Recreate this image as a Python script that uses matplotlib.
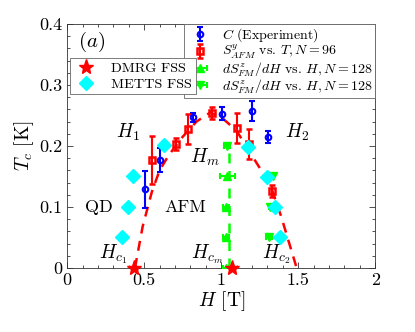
import numpy as np
import matplotlib
matplotlib.use("Agg")
import matplotlib.pyplot as plt

plt.rcParams['font.family'] = 'serif'
plt.rcParams['font.serif'] = ['cmr10']
plt.rcParams['mathtext.fontset'] = 'cm'
plt.rcParams['axes.formatter.use_mathtext'] = True

# C (Experiment)
H_exp = [0.505, 0.602, 0.814, 1.006, 1.20, 1.303]
T_exp = [0.129, 0.177, 0.247, 0.253, 0.257, 0.214]
err_exp = [0.03, 0.02, 0.007, 0.01, 0.016, 0.01]

# S^y_AFM vs T, N=96
H_saf = [0.552, 0.706, 0.786, 0.938, 1.10, 1.178, 1.327]
T_saf = [0.177, 0.203, 0.228, 0.254, 0.229, 0.203, 0.126]
err_saf = [0.04, 0.01, 0.025, 0.01, 0.025, 0.025, 0.01]

# dS^z_FM/dH vs H, N=128 (up triangles)
H_up = [1.03, 1.03, 1.03, 1.04]
T_up = [0.0, 0.05, 0.10, 0.15]
xerr_up = [0.02, 0.02, 0.02, 0.05]

# dS^z_FM/dH vs H, N=128 (down triangles)
H_dn = [1.04, 1.335, 1.32, 1.31]
T_dn = [0.20, 0.15, 0.10, 0.05]
xerr_dn = [0.02, 0.01, 0.01, 0.02]

# DMRG FSS
H_dmrg = [0.433, 1.07]
T_dmrg = [0.0, 0.0]

# METTS FSS
H_metts = [0.353, 0.392, 0.429, 0.628, 1.175, 1.295, 1.349, 1.381]
T_metts = [0.051, 0.10, 0.15, 0.201, 0.198, 0.149, 0.0995, 0.051]

# red dashed phase boundary
H_line = [0.44, 0.49, 0.55, 0.60, 0.66, 0.75, 0.84, 0.93, 1.01, 1.10, 1.16, 1.26, 1.33, 1.39, 1.49]
T_line = [0.0, 0.068, 0.125, 0.16, 0.185, 0.215, 0.24, 0.255, 0.245, 0.225, 0.20, 0.16, 0.128, 0.084, 0.0]

# green dashed line
H_m = 1.052
T_m_top = 0.20

fig = plt.figure(figsize=(4.15, 3.32), dpi=100)
ax = fig.add_axes([0.162, 0.193, 0.742, 0.735])

ax.plot(H_line, T_line, '--', color='r', lw=1.8, dashes=(4, 3), zorder=2)
ax.plot([H_m, H_m], [0, T_m_top], '--', color=(0, 1, 0), lw=1.8, dashes=(4, 3), zorder=2)

e1 = ax.errorbar(H_exp, T_exp, yerr=err_exp, fmt='o', color='b', ms=4, mfc='none',
                 mew=1.5, elinewidth=1.5, capsize=2.5, capthick=1.5, zorder=4,
                 label=r'$C$ (Experiment)')
e2 = ax.errorbar(H_saf, T_saf, yerr=err_saf, fmt='s', color='r', ms=4, mfc='none',
                 mew=1.8, elinewidth=1.5, capsize=2.5, capthick=1.5, zorder=4,
                 label=r'$S^{y}_{AFM}$ vs. $T, N=96$')
e3 = ax.errorbar(H_up, T_up, xerr=xerr_up, fmt='^', color=(0, 1, 0), ms=6,
                 elinewidth=1.5, capsize=2.5, capthick=1.5, zorder=3,
                 label=r'$dS^{z}_{FM}/dH$ vs. $H, N=128$')
e4 = ax.errorbar(H_dn, T_dn, xerr=xerr_dn, fmt='v', color=(0, 1, 0), ms=6,
                 elinewidth=1.5, capsize=2.5, capthick=1.5, zorder=3,
                 label=r'$dS^{z}_{FM}/dH$ vs. $H, N=128$')
s1, = ax.plot(H_dmrg, T_dmrg, '*', color='r', ms=11, ls='none', zorder=6, clip_on=False,
              label='DMRG FSS')
s2, = ax.plot(H_metts, T_metts, 'D', color=(0, 1, 1), ms=7.5, ls='none', zorder=5,
              label='METTS FSS')

ax.set_xlim(0, 2)
ax.set_ylim(0, 0.4)
ax.set_xticks([0, 0.5, 1, 1.5, 2])
ax.set_xticklabels(['0', '0.5', '1', '1.5', '2'])
ax.set_yticks([0, 0.1, 0.2, 0.3, 0.4])
ax.set_yticklabels(['0', '0.1', '0.2', '0.3', '0.4'])
ax.set_xticks(np.arange(0, 2.01, 0.1), minor=True)
ax.set_yticks(np.arange(0, 0.401, 0.02), minor=True)
ax.tick_params(which='both', direction='in', top=True, right=True, labelsize=13,
               color='0.2', width=0.6)
ax.tick_params(which='major', length=4)
ax.tick_params(which='minor', length=2)
for sp in ax.spines.values():
    sp.set_color('0.2')
    sp.set_linewidth(0.6)

ax.set_xlabel(r'$H$ [T]', fontsize=14, labelpad=1)
ax.set_ylabel(r'$T_c$ [K]', fontsize=14, labelpad=2)

# annotations
ax.text(0.08, 0.926, r'$(a)$', transform=ax.transAxes, fontsize=15, ha='center', va='center')
ax.text(0.394, 0.223, r'$H_1$', fontsize=14, ha='center', va='center')
ax.text(1.49, 0.223, r'$H_2$', fontsize=14, ha='center', va='center')
ax.text(0.894, 0.181, r'$H_m$', fontsize=14, ha='center', va='center')
ax.text(0.206, 0.10, 'QD', fontsize=13, ha='center', va='center')
ax.text(0.77, 0.10, 'AFM', fontsize=13, ha='center', va='center')
ax.text(0.297, 0.022, r'$H_{c_1}$', fontsize=14, ha='center', va='center')
ax.text(0.907, 0.022, r'$H_{c_m}$', fontsize=14, ha='center', va='center')
ax.text(1.36, 0.022, r'$H_{c_2}$', fontsize=14, ha='center', va='center')

leg1 = ax.legend(handles=[e1, e2, e3, e4], loc='upper right', bbox_to_anchor=(1, 1),
                 borderaxespad=0, fontsize=10, labelspacing=-0.1, handlelength=1.9,
                 handletextpad=0.6, borderpad=0.2, fancybox=False, framealpha=1,
                 edgecolor='0.4')
leg1.get_frame().set_linewidth(0.6)
ax.add_artist(leg1)
leg2 = ax.legend(handles=[s1, s2], loc='upper left', bbox_to_anchor=(0.008, 0.859),
                 borderaxespad=0, fontsize=10.2, labelspacing=0.2, handlelength=1.8,
                 handletextpad=0.9, borderpad=0.25, fancybox=False, framealpha=1,
                 edgecolor='0.4')
leg2.get_frame().set_linewidth(0.6)
leg2.set_zorder(10)

fig.savefig('out.png', dpi=100)
